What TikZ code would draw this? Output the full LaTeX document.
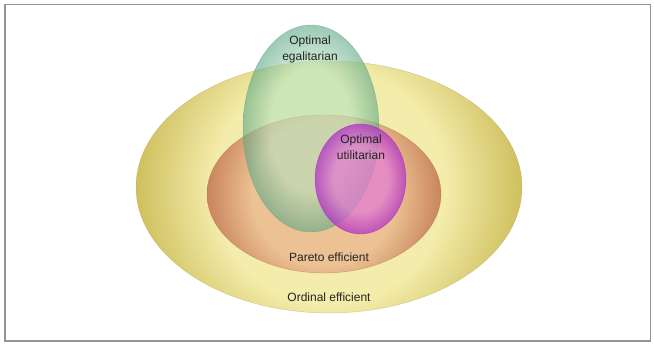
\documentclass[tikz,border=0pt]{standalone}
\usepackage{fontspec}
\setmainfont{Liberation Sans}
\usetikzlibrary{positioning}

\definecolor{ordinalout}{RGB}{206,190,92}
\definecolor{ordinalin}{RGB}{243,236,170}
\definecolor{paretoout}{RGB}{200,130,90}
\definecolor{paretoin}{RGB}{236,194,148}
\definecolor{egalout}{RGB}{92,166,134}
\definecolor{egalin}{RGB}{182,226,190}
\definecolor{utilout}{RGB}{176,48,196}
\definecolor{utilin}{RGB}{226,124,208}
\definecolor{labeltext}{RGB}{35,35,35}

\colorlet{vennin}{white}
\colorlet{vennout}{black}
\pgfdeclareradialshading[vennin,vennout]{vennball}{\pgfpoint{0bp}{0bp}}%
  {color(0bp)=(vennin); color(15bp)=(vennin); color(25bp)=(vennout); color(50bp)=(vennout)}

\tikzset{
  setfill/.code 2 args={\colorlet{vennin}{#1}\colorlet{vennout}{#2}\pgfkeysalso{shading=vennball}},
  setlabel/.style={font=\fontsize{12}{16}\selectfont, text=labeltext, align=center, inner sep=0pt}
}

\begin{document}
\begin{tikzpicture}[x=1pt,y=-1pt]

\useasboundingbox (0,0) rectangle (654,344);
\draw[line width=1.4pt, gray!85] (5,4.5) rectangle (650.5,341);

% ordinal efficient
\begin{scope}
\clip (329,187) ellipse (193 and 126);
\shade[setfill={ordinalin}{ordinalout}] (329,187) circle (195);
\end{scope}
\draw[ordinalout!85!black, line width=0.4pt, opacity=0.5] (329,187) ellipse (193 and 126);

% pareto efficient
\begin{scope}
\clip (324,194) ellipse (117 and 79);
\shade[setfill={paretoin}{paretoout}] (324,194) circle (119);
\end{scope}
\draw[paretoout!90!black, line width=0.4pt, opacity=0.6] (324,194) ellipse (117 and 79);

% optimal egalitarian
\shade[setfill={egalin}{egalout}, fill opacity=0.6]
(311,128.5) ellipse (68 and 103.5);
\draw[egalout, opacity=0.6, line width=0.4pt] (311,128.5) ellipse (68 and 103.5);

% optimal utilitarian
\shade[setfill={utilin}{utilout}, fill opacity=0.75]
(360.5,179) ellipse (45.5 and 55);
\draw[utilout, opacity=0.7, line width=0.4pt] (360.5,179) ellipse (45.5 and 55);

\node[setlabel] (egal) at (310,49) {Optimal\\egalitarian};
\node[setlabel] (util) at (361,147) {Optimal\\utilitarian};
\node[setlabel] (pareto) at (329,257) {Pareto efficient};
\node[setlabel] (ordinal) at (329,297) {Ordinal efficient};

\end{tikzpicture}
\end{document}
